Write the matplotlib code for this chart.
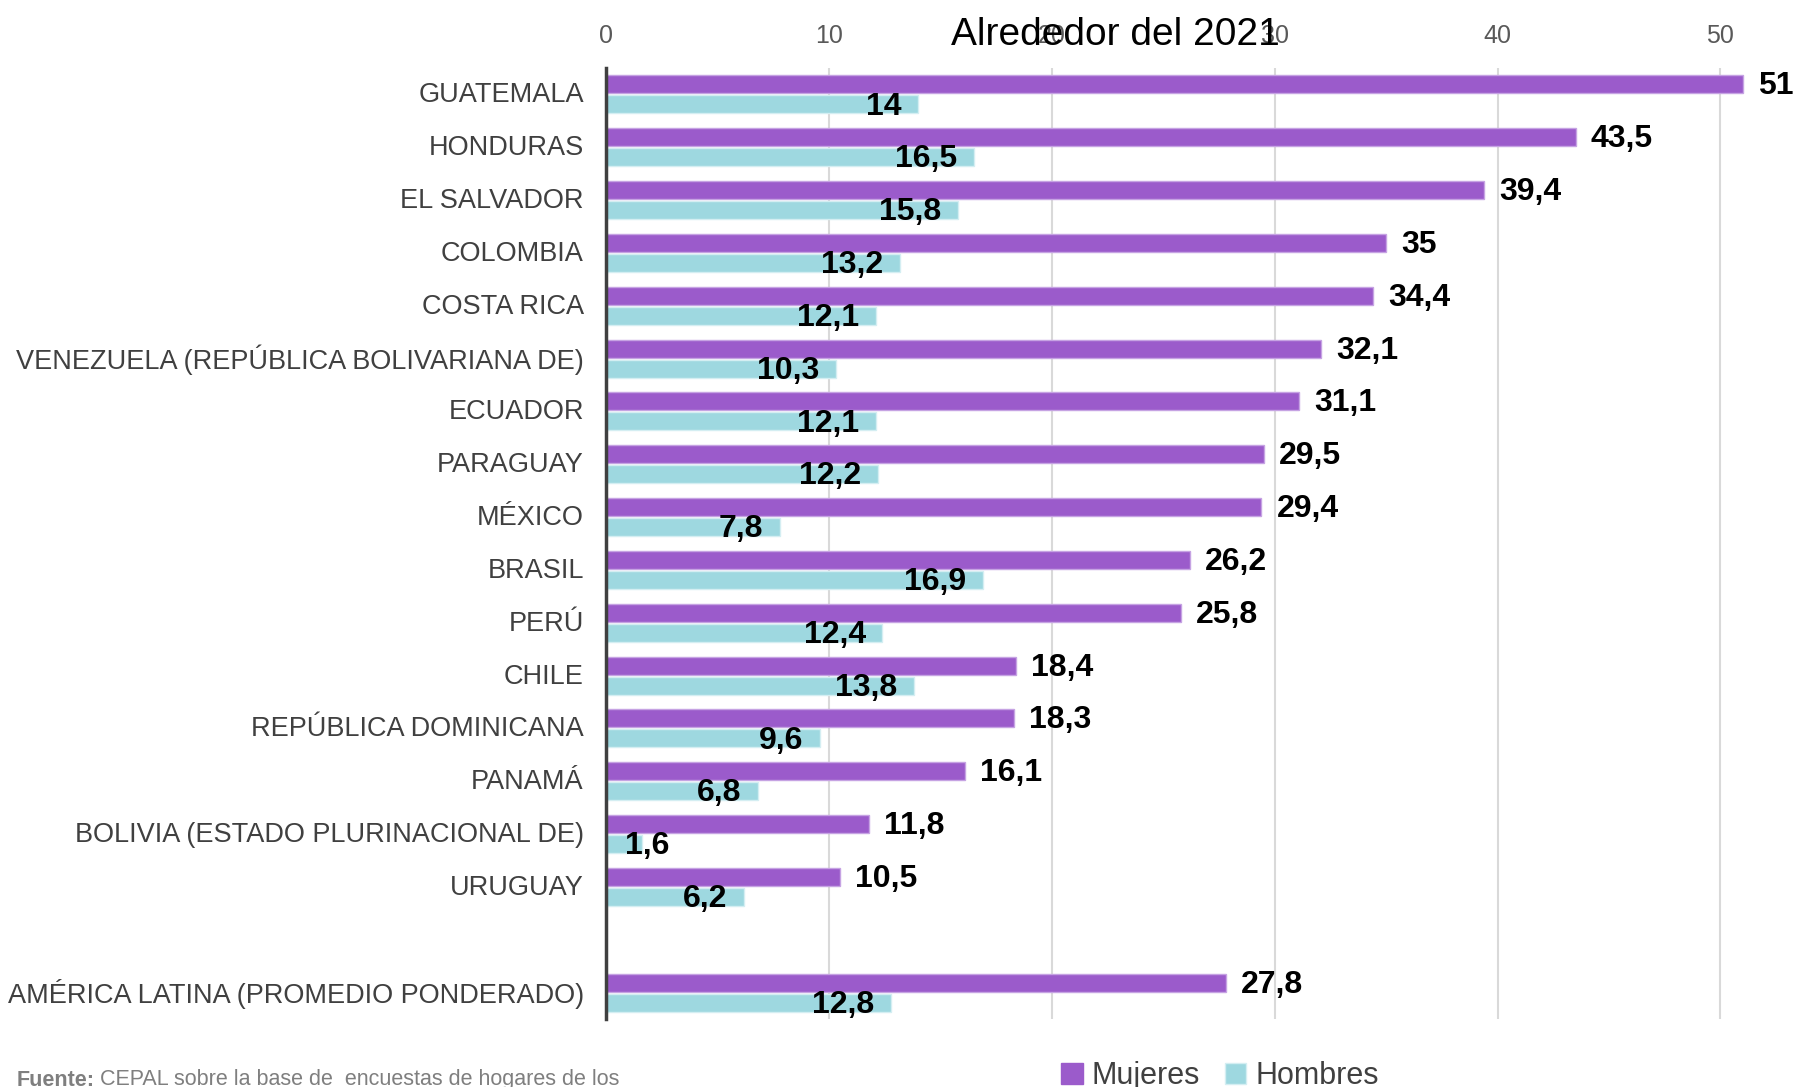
import numpy as np
import matplotlib
matplotlib.use("Agg")
import matplotlib.pyplot as plt
from matplotlib.patches import Patch

plt.rcParams['font.family'] = ['Liberation Sans', 'DejaVu Sans']

categories = ["GUATEMALA", "HONDURAS", "EL SALVADOR", "COLOMBIA", "COSTA RICA",
              "VENEZUELA (REPÚBLICA BOLIVARIANA DE)", "ECUADOR", "PARAGUAY", "MÉXICO",
              "BRASIL", "PERÚ", "CHILE", "REPÚBLICA DOMINICANA", "PANAMÁ",
              "BOLIVIA (ESTADO PLURINACIONAL DE)", "URUGUAY", "",
              "AMÉRICA LATINA (PROMEDIO PONDERADO)"]
mujeres = [51, 43.5, 39.4, 35, 34.4, 32.1, 31.1, 29.5, 29.4, 26.2, 25.8, 18.4, 18.3,
           16.1, 11.8, 10.5, np.nan, 27.8]
hombres = [14, 16.5, 15.8, 13.2, 12.1, 10.3, 12.1, 12.2, 7.8, 16.9, 12.4, 13.8, 9.6,
           6.8, 1.6, 6.2, np.nan, 12.8]
xticks = [0, 10, 20, 30, 40, 50]

c_muj = "#9B5BCB"
c_hom = "#9ED8E0"
txt_gray = "#404040"

W, H = 1793, 1087
fig = plt.figure(figsize=(W / 100, H / 100), dpi=100)
ax = fig.add_axes([606 / W, 1 - 1019 / H, (1765 - 606) / W, (1019 - 68) / H])

y = np.arange(len(categories))
bh = 0.34
m = np.array(mujeres, dtype=float)
h = np.array(hombres, dtype=float)
ok = ~np.isnan(m)

ax.barh(y[ok] - 0.19, m[ok], height=bh, color=c_muj, edgecolor="#C6A3E3", linewidth=1.0, zorder=3)
ax.barh(y[ok] + 0.19, h[ok], height=bh, color=c_hom, edgecolor="#D4EEF2", linewidth=1.0, zorder=3)

def fmt(v):
    if float(v).is_integer():
        return str(int(v))
    return f"{v:.1f}".replace(".", ",")

LFS = 23
DY = -1.5
for yi, mv, hv in zip(y[ok], m[ok], h[ok]):
    ax.annotate(fmt(mv), (mv, yi - 0.19), xytext=(11, DY), textcoords="offset points",
                ha="left", va="center", fontsize=LFS, fontweight="bold", color="black",
                zorder=5, annotation_clip=False)
    if hv < 3:
        ax.annotate(fmt(hv), (0, yi + 0.19), xytext=(14, DY), textcoords="offset points",
                    ha="left", va="center", fontsize=LFS, fontweight="bold", color="black", zorder=5)
    else:
        ax.annotate(fmt(hv), (hv, yi + 0.19), xytext=(-12, DY), textcoords="offset points",
                    ha="right", va="center", fontsize=LFS, fontweight="bold", color="black", zorder=5)

ax.set_xlim(0, 52)
ax.set_ylim(len(categories) - 0.5, -0.5)
ax.set_yticks(y)
ax.set_yticklabels([])
for yi, cat in zip(y, categories):
    ax.annotate(cat, (0, yi), xycoords=("axes fraction", "data"), xytext=(-16, -0.7),
                textcoords="offset points", ha="right", va="center", fontsize=19.5,
                color=txt_gray, annotation_clip=False)
ax.set_xticks(xticks)
ax.set_xticklabels([str(t) for t in xticks], fontsize=18, color="#595959")
ax.xaxis.tick_top()
ax.tick_params(axis="x", length=0, pad=14.5)
ax.tick_params(axis="y", length=0)
ax.grid(axis="x", color="#D9D9D9", linewidth=1.5, zorder=0)
ax.set_axisbelow(True)
for s in ["top", "right", "bottom"]:
    ax.spines[s].set_visible(False)
ax.spines["left"].set_color(txt_gray)
ax.spines["left"].set_linewidth(2.5)
ax.spines["left"].set_zorder(4)

fig.text(1115 / W, 1 - 35 / H, "Alrededor del 2021", ha="center", va="center",
         fontsize=28, color="black")

handles = [Patch(facecolor=c_muj, edgecolor=c_muj), Patch(facecolor=c_hom, edgecolor="#D4EEF2")]
fig.legend(handles, ["Mujeres", "Hombres"], loc="center", bbox_to_anchor=(1220 / W, 1 - 1076 / H),
           ncol=2, frameon=False, fontsize=22, labelcolor=txt_gray, handlelength=0.7,
           handleheight=0.7, handletextpad=0.3, columnspacing=0.8, borderpad=0)

t1 = fig.text(17 / W, 1 - 1080 / H, "Fuente:", fontsize=15.5, fontweight="bold", color="#7F7F7F",
              ha="left", va="center")
fig.canvas.draw()
bb = t1.get_window_extent()
fig.text((bb.x1 + 5) / W, 1 - 1080 / H, "CEPAL sobre la base de  encuestas de hogares de los",
         fontsize=15.5, color="#7F7F7F", ha="left", va="center")

fig.savefig("out.png", dpi=100)
